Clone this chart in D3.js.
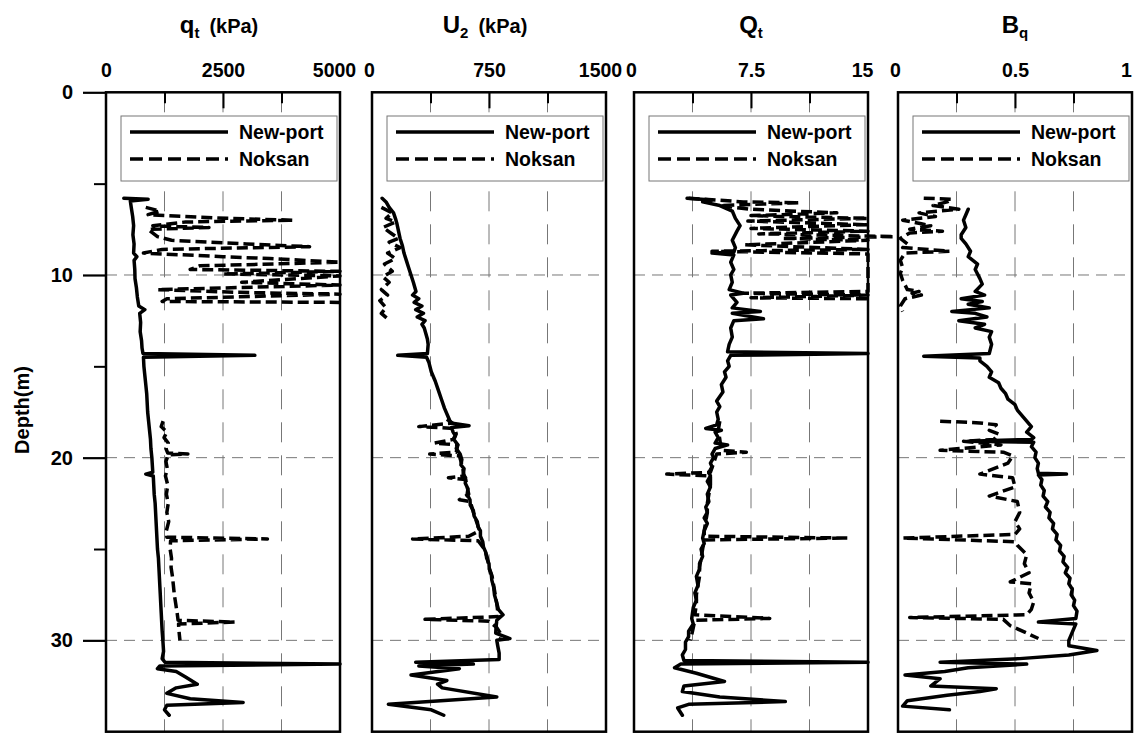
<!DOCTYPE html>
<html>
<head>
<meta charset="utf-8">
<script src="https://cdn.jsdelivr.net/npm/d3@7"></script>
<style>
  body { margin: 0; background: #fff; }
  text { font-family: "Liberation Sans", Arial, sans-serif; font-weight: bold; fill: #000; }
</style>
</head>
<body>
<svg id="chart" width="1140" height="733"></svg>
<script>
// ---- CPT profiles: [depth (m), value] ----
const qtNewport = [[5.8,380],[5.85,900],[5.95,520],[6.3,540],[6.8,570],[7.3,590],[7.8,575],[8.3,600],[8.8,590],[9.0,660],[9.2,600],[9.7,615],[10.2,620],[10.7,650],[11.2,670],[11.7,700],[11.9,830],[12.1,720],[12.6,740],[13.1,730],[13.6,760],[14.0,770],[14.3,790],[14.4,3180],[14.5,800],[15.0,810],[15.5,830],[16.0,850],[16.5,870],[17.0,880],[17.5,890],[18.0,910],[18.5,930],[19.0,950],[19.5,960],[20.0,980],[20.8,1000],[20.9,850],[21.0,1010],[21.5,1020],[22.0,1030],[22.5,1050],[23.0,1060],[23.5,1070],[24.0,1080],[24.5,1090],[25.0,1100],[25.5,1120],[26.0,1130],[26.5,1140],[27.0,1150],[27.5,1160],[28.0,1170],[28.5,1180],[29.0,1190],[29.5,1200],[30.0,1215],[30.6,1230],[31.0,1200],[31.2,1260],[31.3,5000],[31.4,1150],[31.55,1100],[31.7,1500],[32.0,1700],[32.4,1950],[32.6,1500],[32.9,1300],[33.2,1800],[33.4,2930],[33.55,1300],[33.8,1250],[34.1,1350]];
const qtNoksan = [[6.3,850],[6.5,1150],[6.7,900],[6.9,2600],[7.0,4000],[7.1,1700],[7.3,1000],[7.4,2200],[7.5,900],[7.9,1100],[8.1,1400],[8.3,3000],[8.45,4350],[8.6,1200],[8.8,800],[9.0,2500],[9.1,3500],[9.3,5000],[9.5,2000],[9.7,1800],[9.8,5000],[9.95,2500],[10.05,5000],[10.4,2900],[10.55,5000],[10.8,1100],[10.95,2800],[11.05,5000],[11.3,1300],[11.45,1200],[11.5,5000],[14,null],[18.0,1220],[18.3,1180],[18.6,1300],[18.9,1240],[19.2,1330],[19.5,1280],[19.75,1320],[19.8,1750],[19.85,1330],[20.2,1280],[20.6,1310],[21.0,1270],[21.5,1320],[22.0,1290],[22.5,1330],[23.0,1300],[23.5,1340],[24.0,1290],[24.35,1300],[24.45,3450],[24.55,1380],[25.0,1370],[25.5,1400],[26.0,1390],[26.5,1420],[27.0,1440],[27.5,1460],[28.0,1490],[28.5,1520],[28.9,1540],[29.0,2750],[29.1,1550],[29.5,1560],[30.0,1580]];

const u2Newport = [[5.8,65],[6.0,90],[6.3,110],[6.6,138],[6.9,150],[7.2,160],[7.6,170],[8.0,180],[8.4,195],[8.8,205],[9.2,220],[9.6,235],[10.0,250],[10.4,265],[10.9,282],[11.1,260],[11.3,300],[11.5,270],[11.7,320],[11.9,280],[12.1,330],[12.3,290],[12.5,340],[12.7,320],[12.9,335],[13.2,345],[13.5,355],[13.8,360],[14.3,355],[14.4,165],[14.5,350],[14.8,365],[15.3,380],[15.8,405],[16.3,425],[16.8,445],[17.3,465],[17.8,490],[18.1,505],[18.25,622],[18.35,510],[18.6,520],[18.8,535],[19.0,525],[19.3,550],[19.5,540],[19.8,565],[20.1,576],[20.4,570],[20.6,590],[20.9,585],[21.1,600],[21.4,598],[21.7,615],[22.0,610],[22.3,628],[22.6,630],[22.9,650],[23.2,655],[23.5,675],[23.8,680],[24.0,695],[24.3,695],[24.6,710],[24.9,715],[25.2,730],[25.5,735],[25.8,750],[26.1,752],[26.4,765],[26.7,768],[27.1,780],[27.5,785],[27.9,798],[28.3,810],[28.6,840],[28.9,800],[29.3,795],[29.6,793],[29.9,884],[30.0,800],[30.3,806],[30.7,815],[31.05,815],[31.2,280],[31.3,650],[31.4,300],[31.55,560],[31.9,250],[32.2,480],[32.4,420],[32.6,450],[33.1,800],[33.5,105],[33.8,380],[34.1,460]];
const u2Noksan = [[6.3,60],[6.6,130],[6.9,90],[7.1,150],[7.4,70],[7.7,120],[8.0,170],[8.2,110],[8.5,180],[8.8,100],[9.1,150],[9.4,80],[9.8,130],[10.1,70],[10.4,110],[10.8,60],[11.1,100],[11.4,50],[11.8,90],[12.1,60],[12.4,100],[15,null],[17.9,480],[18.1,515],[18.3,300],[18.4,530],[18.7,540],[19.0,520],[19.2,400],[19.3,550],[19.7,540],[19.8,370],[19.9,560],[20.5,580],[21.0,590],[21.1,490],[21.2,600],[22.0,620],[22.3,560],[22.4,630],[23.0,650],[23.5,670],[24.0,690],[24.3,620],[24.45,260],[24.55,680],[25.0,720],[25.5,740],[26.0,750],[26.5,770],[27.0,780],[27.5,790],[28.0,800],[28.7,810],[28.85,340],[28.95,750],[29.3,800],[29.7,830],[30.0,820]];

const QtNewport = [[5.8,3.4],[5.9,5.0],[6.0,4.4],[6.2,5.5],[6.5,6.3],[6.9,6.5],[7.3,6.8],[7.6,6.6],[8.1,6.3],[8.5,6.5],[8.75,6.4],[8.8,5.0],[8.9,6.4],[9.3,6.2],[9.7,6.4],[10.0,6.2],[10.4,6.3],[10.8,6.1],[11.0,7.0],[11.1,6.2],[11.5,6.6],[11.8,6.3],[12.0,8.1],[12.1,6.3],[12.4,8.3],[12.5,6.4],[12.9,6.2],[13.4,6.3],[13.8,6.1],[14.2,6.0],[14.3,15.0],[14.4,6.2],[14.7,6.0],[15.0,6.1],[15.3,5.8],[15.6,5.9],[16.0,5.6],[16.4,5.7],[16.9,5.3],[17.2,5.5],[17.5,5.3],[17.9,5.4],[18.2,5.3],[18.4,4.6],[18.5,5.6],[18.6,5.2],[18.9,5.4],[19.2,5.2],[19.3,6.0],[19.5,5.2],[19.8,5.0],[20.0,5.1],[20.3,4.9],[20.5,5.0],[20.8,4.8],[21.0,4.9],[21.3,4.7],[21.6,4.9],[22.0,4.7],[22.4,4.8],[22.7,4.6],[23.0,4.7],[23.3,4.5],[23.6,4.7],[24.0,4.5],[24.4,4.4],[24.7,4.5],[25.0,4.3],[25.4,4.4],[25.8,4.2],[26.1,4.2],[26.5,4.0],[27.0,4.1],[27.4,3.9],[27.8,4.0],[28.2,3.8],[28.8,3.7],[29.1,3.8],[29.5,3.5],[29.8,3.5],[30.1,3.3],[30.5,3.3],[30.8,3.1],[31.1,3.2],[31.2,15.0],[31.3,3.0],[31.5,2.6],[31.8,4.0],[32.25,5.8],[32.5,3.2],[32.8,3.1],[33.1,5.5],[33.35,9.7],[33.5,3.5],[33.7,2.8],[34.1,3.1]];
const QtNoksan = [[5.8,3.5],[5.85,4.5],[6.0,7.0],[6.05,10.6],[6.2,5.5],[6.4,7.4],[6.6,13.0],[6.75,7.5],[6.9,15.0],[7.05,7.3],[7.25,15.0],[7.45,7.5],[7.6,15.0],[7.75,8.0],[7.9,16.7],[8.0,9.5],[8.1,15.0],[8.35,7.1],[8.6,15.0],[8.7,5.0],[8.85,15.0],[10.9,15.0],[11.0,7.0],[11.1,15.0],[11.25,7.5],[11.3,15.0],[11.5,15.0],[15,null],[18.0,5.5],[18.5,5.4],[19.0,5.5],[19.6,5.6],[19.7,7.2],[19.8,5.3],[20.3,5.1],[20.8,4.9],[20.9,2.1],[21.0,4.9],[21.5,4.9],[22.0,4.8],[22.5,4.7],[23.0,4.7],[23.5,4.6],[24.0,4.5],[24.3,4.5],[24.4,13.7],[24.5,4.5],[25.0,4.4],[25.5,4.3],[26.0,4.2],[26.5,4.2],[27.0,4.1],[27.5,4.0],[28.0,4.0],[28.6,3.9],[28.8,8.7],[28.9,3.9],[29.3,3.8],[29.7,3.7],[30.0,3.6]];

const BqNewport = [[6.4,0.30],[6.7,0.29],[7.0,0.28],[7.4,0.29],[7.8,0.27],[8.0,0.27],[8.3,0.29],[8.7,0.31],[9.0,0.30],[9.4,0.34],[9.7,0.33],[10.2,0.35],[10.5,0.36],[10.9,0.33],[11.1,0.37],[11.3,0.27],[11.45,0.36],[11.6,0.30],[11.8,0.39],[12.0,0.23],[12.1,0.33],[12.3,0.38],[12.5,0.26],[12.7,0.37],[12.9,0.33],[13.1,0.40],[13.4,0.39],[13.8,0.40],[14.3,0.39],[14.45,0.11],[14.55,0.35],[14.7,0.35],[15.0,0.38],[15.3,0.40],[15.6,0.39],[15.9,0.43],[16.2,0.44],[16.5,0.46],[16.8,0.47],[17.1,0.50],[17.4,0.51],[17.7,0.53],[18.0,0.55],[18.3,0.57],[18.6,0.55],[18.9,0.58],[19.0,0.57],[19.1,0.30],[19.15,0.58],[19.4,0.57],[19.7,0.59],[20.0,0.585],[20.3,0.60],[20.6,0.595],[20.85,0.60],[20.9,0.72],[20.95,0.60],[21.2,0.615],[21.5,0.61],[21.8,0.625],[22.1,0.62],[22.4,0.64],[22.7,0.63],[23.0,0.65],[23.3,0.645],[23.6,0.665],[23.9,0.66],[24.2,0.68],[24.5,0.675],[24.8,0.695],[25.1,0.69],[25.4,0.71],[25.7,0.705],[26.0,0.725],[26.3,0.715],[26.6,0.735],[26.9,0.73],[27.2,0.745],[27.5,0.74],[27.8,0.755],[28.1,0.75],[28.4,0.765],[28.8,0.76],[29.0,0.60],[29.1,0.76],[29.4,0.75],[29.7,0.74],[30.0,0.73],[30.3,0.73],[30.55,0.85],[30.8,0.73],[31.0,0.52],[31.2,0.18],[31.3,0.55],[31.5,0.30],[31.7,0.20],[31.9,0.03],[32.1,0.18],[32.5,0.14],[32.65,0.42],[32.8,0.35],[33.0,0.21],[33.3,0.04],[33.6,0.02],[33.8,0.22]];
const BqNoksan = [[5.8,0.11],[5.85,0.23],[6.0,0.21],[6.2,0.15],[6.4,0.26],[6.6,0.09],[6.8,0.16],[7.0,0.02],[7.2,0.10],[7.3,0.14],[7.5,0.05],[7.6,0.19],[7.7,0.05],[8.0,0.01],[8.3,0.04],[8.5,0.02],[8.7,0.22],[8.8,0.03],[9.2,0.01],[9.6,0.02],[9.9,0.01],[10.3,0.02],[10.8,0.04],[10.9,0.09],[11.0,0.06],[11.1,0.10],[11.3,0.03],[11.7,0.01],[12.0,0.02],[15,null],[18.0,0.18],[18.1,0.35],[18.2,0.42],[18.5,0.39],[18.7,0.43],[19.0,0.41],[19.1,0.28],[19.3,0.44],[19.6,0.18],[19.7,0.45],[19.9,0.49],[20.3,0.47],[20.9,0.35],[21.1,0.49],[21.6,0.50],[22.1,0.39],[22.4,0.51],[23.0,0.52],[23.5,0.50],[23.9,0.52],[24.2,0.50],[24.4,0.02],[24.6,0.50],[24.8,0.51],[25.3,0.55],[25.8,0.54],[26.3,0.56],[26.8,0.48],[26.9,0.57],[27.4,0.56],[27.9,0.58],[28.3,0.57],[28.6,0.55],[28.75,0.05],[28.85,0.45],[29.2,0.48],[29.6,0.55],[29.9,0.60]];

// ---- panel definitions ----
const titleMain = ["q", "U", "Q", "B"];
const titleSub = ["t", "2", "t", "q"];
const titleUnit = ["(kPa)", "(kPa)", "", ""];
const axisMax = [5000, 1500, 15, 1];
const topTickLabels = [["0", "2500", "5000"], ["0", "750", "1500"], ["0", "7.5", "15"], ["0", "0.5", "1"]];
const depthMajor = [0, 10, 20, 30];
const depthMinor = [5, 15, 25];
const seriesNames = ["New-port", "Noksan"];
const newportSeries = [qtNewport, u2Newport, QtNewport, BqNewport];
const noksanSeries = [qtNoksan, u2Noksan, QtNoksan, BqNoksan];

// ---- layout ----
const panelLeft = [106, 372, 634, 898];
const panelW = 234;
const plotTop = 92.3, plotBottom = 731.7;

const svg = d3.select("#chart");
const y = d3.scaleLinear().domain([0, 35]).range([plotTop, plotBottom]);

// depth axis on the first panel
const yMajor = d3.axisLeft(y).tickValues(depthMajor).tickSize(23).tickPadding(10).tickFormat(d3.format("d"));
const yMinor = d3.axisLeft(y).tickValues(depthMinor).tickSize(12).tickFormat("");
const gy = svg.append("g").attr("transform", `translate(${panelLeft[0]},0)`).call(yMajor);
gy.select(".domain").remove();
gy.selectAll("line").attr("stroke", "#000").attr("stroke-width", 2.2);
gy.selectAll("text").style("font-size", "20px");
const gy2 = svg.append("g").attr("transform", `translate(${panelLeft[0]},0)`).call(yMinor);
gy2.select(".domain").remove();
gy2.selectAll("line").attr("stroke", "#000").attr("stroke-width", 2);

svg.append("text")
  .attr("transform", `translate(29,${(plotTop + plotBottom) / 2 - 2}) rotate(-90)`)
  .attr("text-anchor", "middle")
  .style("font-size", "20px")
  .text("Depth(m)");

panelLeft.forEach((left, i) => {
  const x = d3.scaleLinear().domain([0, axisMax[i]]).range([left, left + panelW]);
  const g = svg.append("g");
  const quarters = [axisMax[i] / 4, axisMax[i] / 2, axisMax[i] * 3 / 4];

  // horizontal grid
  g.append("g").selectAll("line").data(depthMajor.slice(1)).join("line")
    .attr("x1", left).attr("x2", left + panelW)
    .attr("y1", d => y(d)).attr("y2", d => y(d))
    .attr("stroke", "#777").attr("stroke-width", 1).attr("stroke-dasharray", "11,7");

  // vertical grid
  g.append("g").selectAll("line").data(quarters).join("line")
    .attr("x1", d => x(d)).attr("x2", d => x(d))
    .attr("y1", plotTop).attr("y2", plotBottom)
    .attr("stroke", "#777").attr("stroke-width", 1).attr("stroke-dasharray", "20,13");

  // legend
  const lg = g.append("g").attr("transform", `translate(${left + 15},116)`);
  lg.append("rect").attr("width", 216).attr("height", 65)
    .attr("fill", "#fff").attr("stroke", "#777").attr("stroke-width", 1);
  seriesNames.forEach((name, k) => {
    const ly = 16 + k * 27;
    lg.append("line").attr("x1", 9).attr("x2", 107).attr("y1", ly).attr("y2", ly)
      .attr("stroke", "#000").attr("stroke-width", 3.5)
      .attr("stroke-dasharray", k === 1 ? "13,6" : null);
    lg.append("text").attr("x", 118).attr("y", ly + 7).style("font-size", "19.5px").text(name);
  });

  // profiles
  const line = d3.line()
    .defined(d => d[1] != null)
    .x(d => x(d[1])).y(d => y(d[0]));
  g.append("path").datum(noksanSeries[i]).attr("d", line)
    .attr("fill", "none").attr("stroke", "#000").attr("stroke-width", 3.5)
    .attr("stroke-dasharray", "11,5").attr("stroke-linejoin", "round");
  g.append("path").datum(newportSeries[i]).attr("d", line)
    .attr("fill", "none").attr("stroke", "#000").attr("stroke-width", 3.5)
    .attr("stroke-linejoin", "round").attr("stroke-linecap", "round");

  // frame
  g.append("rect").attr("x", left).attr("y", plotTop).attr("width", panelW).attr("height", plotBottom - plotTop)
    .attr("fill", "none").attr("stroke", "#000").attr("stroke-width", 2.5);

  // top ticks pointing into the panel
  const tMid = d3.axisTop(x).tickValues([axisMax[i] / 2]).tickSize(-16).tickFormat("");
  const tQ = d3.axisTop(x).tickValues([axisMax[i] / 4, axisMax[i] * 3 / 4]).tickSize(-11).tickFormat("");
  [tMid, tQ].forEach(ax => {
    const ga = g.append("g").attr("transform", `translate(0,${plotTop})`).call(ax);
    ga.select(".domain").remove();
    ga.selectAll("line").attr("stroke", "#000").attr("stroke-width", 2);
  });
  const tl = d3.axisTop(x).tickValues([0, axisMax[i] / 2, axisMax[i]]).tickSize(0).tickPadding(15)
    .tickFormat((d, j) => topTickLabels[i][j]);
  const gl = g.append("g").attr("transform", `translate(0,${plotTop})`).call(tl);
  gl.select(".domain").remove();
  // end labels sit slightly inward so neighbouring panels' labels stay apart
  gl.selectAll("text").style("font-size", "19.5px")
    .attr("dx", (d, j) => j === 2 ? -6 : (j === 0 && i > 0 ? -3 : 0));

  // title
  const cx = left + panelW / 2 + (titleUnit[i] ? -4 : 0);
  const t = g.append("text").attr("x", cx).attr("y", 33).attr("text-anchor", "middle");
  t.append("tspan").style("font-size", "24px").text(titleMain[i]);
  t.append("tspan").style("font-size", "15px").attr("dy", 5).text(titleSub[i]);
  if (titleUnit[i]) {
    t.append("tspan").style("font-size", "20px").attr("dy", -5).attr("dx", 10).text(titleUnit[i]);
  }
});
</script>
</body>
</html>
